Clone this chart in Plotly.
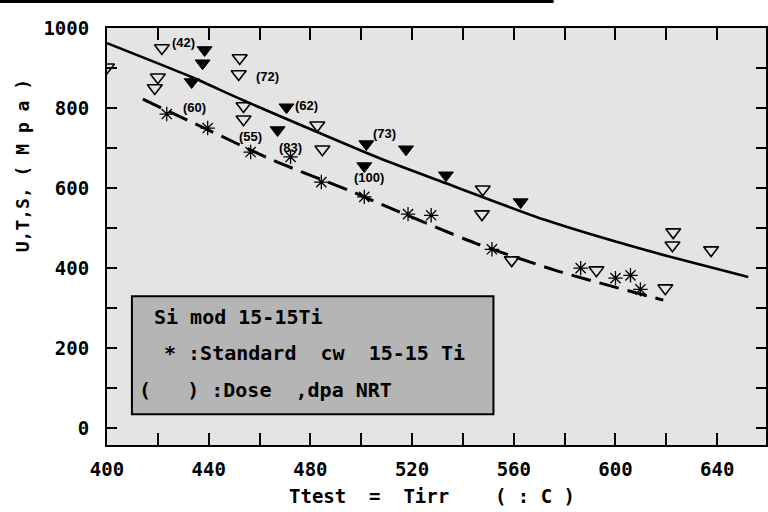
import plotly.graph_objects as go

# ---- data ----
open_x = [400, 418.8, 420, 421.6, 451.8, 452.2, 453.7, 453.7, 482.7, 484.7,
          547.5, 547.8, 559.2, 592.5, 619.6, 622.4, 622.7, 637.6]
open_y = [902, 850, 877, 950, 885, 925, 805, 772, 757, 697,
          535, 597, 420, 395, 350, 457, 490, 445]

filled_x = [433.3, 437.6, 438.4, 467.1, 470.6, 501.2, 502.0, 517.6, 533.3, 562.7]
filled_y = [865, 912, 945, 745, 802, 655, 710, 697, 632, 565]

std_x = [423.5, 439.6, 456.5, 472.2, 484.3, 501.2, 518.4, 527.5, 551.4, 586.3,
         600.0, 605.9, 609.8]
std_y = [785, 750, 690, 678, 615, 578, 535, 532, 447, 400, 375, 382, 347]

fit_si_x = [400, 433, 453.3, 507, 533.3, 572.5, 611.8, 652.2]
fit_si_y = [962, 878, 820, 675, 612, 520, 445, 378]

fit_std_x = [414.1, 437.6, 465.1, 498, 507, 545, 577.6, 618.8]
fit_std_y = [822, 752, 670, 587, 562, 462, 392, 320]

dose_labels = ["(42)", "(72)", "(60)", "(62)", "(55)", "(83)", "(73)", "(100)"]
dose_x = [424.7, 458.0, 429.0, 473.3, 451.0, 467.0, 504.0, 496.5]
dose_y = [965, 880, 802, 807, 730, 702, 737, 627]

legend_lines = ["Si mod 15-15Ti", "* :Standard  cw  15-15 Ti", "(   ) :Dose  ,dpa NRT"]
legend_x = [417.6, 421.8, 411.8]
legend_y = [277, 187, 95]

x_title = "Ttest  =  Tirr    ( : C )"
y_title = "U,T,S, ( M p a )"

MONO = "DejaVu Sans Mono"

fig = go.Figure()

fig.add_trace(go.Scatter(x=fit_si_x, y=fit_si_y, mode="lines",
                         line=dict(color="black", width=2.6, shape="spline", smoothing=0.6),
                         showlegend=False, hoverinfo="skip"))
fig.add_trace(go.Scatter(x=fit_std_x, y=fit_std_y, mode="lines",
                         line=dict(color="black", width=3, dash="20px,9px", shape="spline", smoothing=0.6),
                         showlegend=False, hoverinfo="skip"))

fig.add_trace(go.Scatter(x=open_x, y=open_y, mode="markers",
                         marker=dict(symbol="triangle-down-open", size=13, color="black",
                                     line=dict(width=1.6, color="black")),
                         showlegend=False))
fig.add_trace(go.Scatter(x=filled_x, y=filled_y, mode="markers",
                         marker=dict(symbol="triangle-down", size=13, color="black",
                                     line=dict(width=1, color="black")),
                         showlegend=False))
fig.add_trace(go.Scatter(x=std_x, y=std_y, mode="markers",
                         marker=dict(symbol="asterisk-open", size=12, color="black",
                                     line=dict(width=1.3, color="black")),
                         showlegend=False))

for t, x, y in zip(dose_labels, dose_x, dose_y):
    fig.add_annotation(x=x, y=y, text=t, showarrow=False, xanchor="left", yanchor="middle",
                       font=dict(family="Liberation Sans", size=13, color="black", weight="bold"))

# legend box
fig.add_shape(type="rect", xref="x", yref="y", x0=409.8, x1=552, y0=35, y1=330,
              fillcolor="#b5b5b5", line=dict(color="black", width=2), layer="above")
for t, x, y in zip(legend_lines, legend_x, legend_y):
    fig.add_annotation(x=x, y=y, text=t.replace(" ", "&nbsp;"), showarrow=False,
                       xanchor="left", yanchor="middle",
                       font=dict(family=MONO, size=20, color="black", weight="bold"))

# axis titles
fig.add_annotation(xref="paper", yref="paper", x=(288 - 107) / 661, y=(445 - 496) / 417,
                   text=x_title.replace(" ", "&nbsp;"), showarrow=False, xanchor="left",
                   yanchor="middle", font=dict(family=MONO, size=19, color="black", weight="bold"))
fig.add_annotation(xref="paper", yref="paper", x=(22 - 107) / 661, y=(445 - 166) / 417,
                   text=y_title.replace(" ", "&nbsp;"), showarrow=False, textangle=-90,
                   xanchor="center", yanchor="middle",
                   font=dict(family=MONO, size=18, color="black", weight="bold"))

# scan edge line at top
fig.add_shape(type="line", xref="paper", yref="paper", x0=-0.2, x1=(555 - 107) / 661,
              y0=1 + 26.5 / 417, y1=1 + 26.5 / 417, line=dict(color="black", width=3))

tickfont = dict(family=MONO, size=19, color="black", weight="bold")
fig.update_xaxes(range=[400, 659.2], tick0=400, dtick=40, ticks="inside", ticklen=12,
                 tickwidth=1.5, tickcolor="black", showline=True, linecolor="black",
                 linewidth=2, mirror="ticks", showgrid=False, zeroline=False,
                 tickfont=tickfont, ticklabelstandoff=6,
                 minor=dict(dtick=20, ticks="inside", ticklen=12, tickwidth=1.5,
                            tickcolor="black", showgrid=False))
fig.update_yaxes(range=[-42, 1000], tick0=0, dtick=200, ticks="inside", ticklen=10,
                 tickwidth=1.5, tickcolor="black", showline=True, linecolor="black",
                 linewidth=2, mirror="ticks", showgrid=False, zeroline=False,
                 tickfont=tickfont, ticklabelstandoff=12,
                 minor=dict(dtick=100, ticks="inside", ticklen=10, tickwidth=1.5,
                            tickcolor="black", showgrid=False))

fig.update_layout(width=768, height=512, margin=dict(l=107, r=0, t=28, b=67),
                  plot_bgcolor="#e4e4e4", paper_bgcolor="white", showlegend=False)

fig.write_html("out.html")
